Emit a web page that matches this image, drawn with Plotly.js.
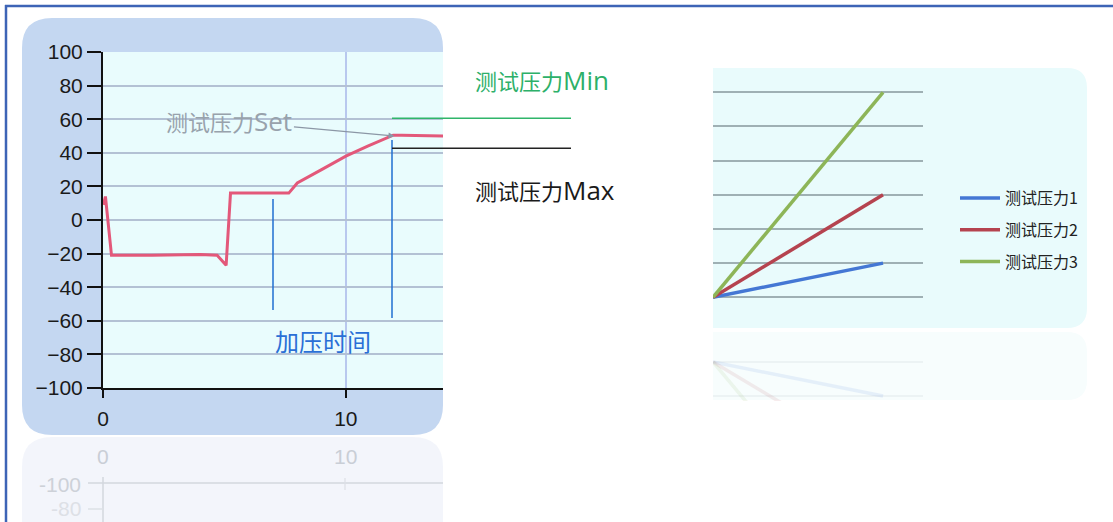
<!DOCTYPE html>
<html>
<head>
<meta charset="utf-8">
<script src="https://cdn.plot.ly/plotly-3.0.1.min.js"></script>
<style>html,body{margin:0;padding:0;background:#fff;}#chart{width:1113px;height:522px;}</style>
</head>
<body>
<div id="chart"></div>
<script>
// ---------- data ----------
const timeX    = [0.02, 0.1, 0.35, 2.0, 4.0, 4.7, 5.07, 5.25, 7.65, 8.0, 9.0, 10.0, 10.9, 11.95, 12.3, 14.0];
const pressure = [9, 14, -21, -21, -20.5, -21, -27, 16, 16, 22, 30, 38, 44, 50.5, 50.5, 50];
const yTicks   = [-100, -80, -60, -40, -20, 0, 20, 40, 60, 80, 100];
const xTicks   = [0, 10];
const setLabel = '测试压力Set';
const setPoint = [12, 50];
const limitLabels = ['测试压力Min', '测试压力Max'];
const limitValues = [60.5, 42.7];
const pressTimes  = [7.0, 11.9];
const pressTop    = [12.5, 47.6];
const pressBottom = [-53.5, -58.3];
const pressLabel  = '加压时间';

const seriesNames = ['测试压力1', '测试压力2', '测试压力3'];
const seriesX     = [0, 1];
const seriesY     = [[0, 1], [0, 3], [0, 6]];
const seriesColors = ['#4477d4', '#b5434f', '#8db558'];

// ---------- layout helpers (pixel -> paper) ----------
const W = 1113, H = 522;
const px = x => x / W;
const py = y => 1 - y / H;
const LB = {l: 103, r: 443, t: 52, b: 388};
const xRange = [0, 14];
const xToPaper = v => px(LB.l + (v - xRange[0]) / (xRange[1] - xRange[0]) * (LB.r - LB.l));

function rrect(x0, y0, x1, y1, r, sq) {
  const P = (x, y) => px(x).toFixed(5) + ',' + py(y).toFixed(5);
  const rl = sq ? 0 : r;
  return 'M' + P(x0 + rl, y0) + ' L' + P(x1 - r, y0) + ' Q' + P(x1, y0) + ' ' + P(x1, y0 + r) +
    ' L' + P(x1, y1 - r) + ' Q' + P(x1, y1) + ' ' + P(x1 - r, y1) +
    ' L' + P(x0 + rl, y1) + ' Q' + P(x0, y1) + ' ' + P(x0, y1 - rl) +
    ' L' + P(x0, y0 + rl) + ' Q' + P(x0, y0) + ' ' + P(x0 + rl, y0) + ' Z';
}

const CJK = '"Noto Sans CJK SC", "Noto Sans", sans-serif';
const LAT = 'Liberation Sans, Arial, sans-serif';
const mix = (label, s2) => {
  const cn = label.replace(/[A-Za-z]+$/, '');
  const lat = label.slice(cn.length);
  return cn + '<span style="font-family:Open Sans;font-size:' + s2 + 'px">' + lat + '</span>';
};

// ---------- traces ----------
const traces = [{
  x: timeX, y: pressure, xaxis: 'x', yaxis: 'y', mode: 'lines',
  line: {color: '#e3587a', width: 3}, showlegend: false, hoverinfo: 'skip'
}];
seriesNames.forEach((n, i) => {
  traces.push({
    x: seriesX, y: seriesY[i], xaxis: 'x2', yaxis: 'y2', mode: 'lines', name: n,
    legendgroup: 'g' + i, line: {color: seriesColors[i], width: 3.5}, hoverinfo: 'skip'
  });
});
seriesNames.forEach((n, i) => {
  traces.push({
    x: seriesX, y: seriesY[i], xaxis: 'x3', yaxis: 'y3', mode: 'lines', showlegend: false,
    opacity: 0.1, line: {color: seriesColors[i], width: 3.5}, hoverinfo: 'skip'
  });
});

// ---------- shapes ----------
const shapes = [
  {type: 'line', xref: 'paper', yref: 'paper', x0: px(5), x1: 1, y0: py(6), y1: py(6), line: {color: '#3d64b6', width: 2.5}},
  {type: 'line', xref: 'paper', yref: 'paper', x0: px(6), x1: px(6), y0: py(5), y1: 0, line: {color: '#3d64b6', width: 2.5}},
  {type: 'path', xref: 'paper', yref: 'paper', layer: 'below', path: rrect(22, 18, 443, 435, 30), fillcolor: '#c4d7f1', line: {width: 0}},
  {type: 'path', xref: 'paper', yref: 'paper', layer: 'below', path: rrect(22, 437, 443, 560, 30), fillcolor: '#f0f3fa', opacity: 0.8, line: {width: 0}},
  {type: 'rect', xref: 'x', yref: 'y', layer: 'below', x0: xRange[0], x1: xRange[1], y0: yTicks[0], y1: yTicks[yTicks.length - 1], fillcolor: '#e9fcfd', line: {width: 0}},
  {type: 'path', xref: 'paper', yref: 'paper', layer: 'below', path: rrect(713, 68, 1087, 328, 20, true), fillcolor: '#e9fbfc', line: {width: 0}},
  {type: 'path', xref: 'paper', yref: 'paper', layer: 'below', path: rrect(713, 332, 1087, 400, 20, true), fillcolor: '#f7fdfd', line: {width: 0}},
  {type: 'line', xref: 'paper', yref: 'paper', x0: px(103), x1: px(443), y0: py(483), y1: py(483), line: {color: '#d3d7de', width: 1.5}},
  {type: 'line', xref: 'paper', yref: 'paper', x0: px(103), x1: px(103), y0: py(477), y1: 0, line: {color: '#d3d7de', width: 1.5}},
  {type: 'line', xref: 'paper', yref: 'paper', x0: px(345), x1: px(345), y0: py(478), y1: py(490), line: {color: '#dde0e6', width: 1.2}},
  {type: 'line', xref: 'paper', yref: 'paper', x0: px(88), x1: px(103), y0: py(483), y1: py(483), line: {color: '#d3d7de', width: 1.5}},
  {type: 'line', xref: 'paper', yref: 'paper', x0: px(88), x1: px(103), y0: py(509), y1: py(509), line: {color: '#dde0e6', width: 1.5}}
];
pressTimes.forEach((t, i) => {
  shapes.push({type: 'line', xref: 'x', yref: 'y', x0: t, x1: t, y0: pressBottom[i], y1: pressTop[i], line: {color: '#1f6fd0', width: 1.5}});
});
const limitColors = ['#2fb56a', '#222222'];
limitValues.forEach((v, i) => {
  shapes.push({type: 'line', xref: 'paper', yref: 'y', x0: xToPaper(pressTimes[1]), x1: px(571), y0: v, y1: v, line: {color: limitColors[i], width: 1.5}});
});

// ---------- annotations ----------
const annotations = [
  {xref: 'x', yref: 'y', x: setPoint[0], y: setPoint[1], text: mix(setLabel, 26), showarrow: true,
   arrowhead: 2, arrowsize: 1, arrowwidth: 1.2, arrowcolor: '#8c97a6', ax: -165, ay: -15,
   font: {family: CJK, size: 22, color: '#98a2ac'}},
  {xref: 'paper', yref: 'paper', x: px(473), y: py(80), xanchor: 'left', yanchor: 'middle', showarrow: false,
   text: mix(limitLabels[0], 26), font: {family: CJK, size: 22, color: '#2db069'}},
  {xref: 'paper', yref: 'paper', x: px(473), y: py(190), xanchor: 'left', yanchor: 'middle', showarrow: false,
   text: mix(limitLabels[1], 26), font: {family: CJK, size: 22, color: '#1a1a1a'}},
  {xref: 'x', yref: 'y', x: pressTimes[0], y: -71.5, xanchor: 'left', yanchor: 'middle', showarrow: false,
   text: pressLabel, font: {family: CJK, size: 24, color: '#2a6fd6'}},
  {xref: 'paper', yref: 'paper', x: px(103), y: py(456), xanchor: 'center', yanchor: 'middle', showarrow: false, text: '0', font: {family: LAT, size: 21, color: '#c9ced6'}},
  {xref: 'paper', yref: 'paper', x: px(345), y: py(456), xanchor: 'center', yanchor: 'middle', showarrow: false, text: '10', font: {family: LAT, size: 21, color: '#c9ced6'}},
  {xref: 'paper', yref: 'paper', x: px(83), y: py(484), xanchor: 'right', yanchor: 'middle', showarrow: false, text: '-100', font: {family: LAT, size: 21, color: '#cdd1d8'}},
  {xref: 'paper', yref: 'paper', x: px(83), y: py(508), xanchor: 'right', yanchor: 'middle', showarrow: false, text: '-80', font: {family: LAT, size: 21, color: '#dde0e6'}}
];

// ---------- layout ----------
const layout = {
  width: W, height: H, margin: {l: 0, r: 0, t: 0, b: 0},
  paper_bgcolor: '#ffffff', plot_bgcolor: 'rgba(0,0,0,0)',
  showlegend: true,
  xaxis: {domain: [px(LB.l), px(LB.r)], range: xRange, tickvals: xTicks, ticktext: xTicks.map(String),
    ticks: 'outside', ticklen: 8, tickwidth: 2, tickcolor: '#111', showline: true, linecolor: '#111', linewidth: 2,
    showgrid: true, gridcolor: '#b8c8ee', gridwidth: 1.5, zeroline: false, ticklabelstandoff: 3,
    tickfont: {family: LAT, size: 21, color: '#1a1a1a'}, fixedrange: true},
  yaxis: {domain: [py(LB.b), py(LB.t)], range: [yTicks[0], yTicks[yTicks.length - 1]], tickvals: yTicks,
    ticks: 'outside', ticklen: 14, tickwidth: 2, tickcolor: '#111', showline: true, linecolor: '#111', linewidth: 2,
    showgrid: true, gridcolor: '#b3c1d4', gridwidth: 2, zeroline: false,
    tickfont: {family: LAT, size: 21, color: '#1a1a1a'}, fixedrange: true},
  xaxis2: {domain: [px(713), px(923)], range: [0, 1.235], anchor: 'y2', showgrid: false, zeroline: false,
    showticklabels: false, showline: false, ticks: '', fixedrange: true},
  yaxis2: {domain: [py(300.7), py(88.9)], range: [-0.1, 6.1], anchor: 'x2', dtick: 1, tick0: 0, showgrid: true,
    gridcolor: '#9fb0b4', gridwidth: 2, zeroline: false, showticklabels: false, ticks: '', showline: false, fixedrange: true},
  xaxis3: {domain: [px(713), px(923)], range: [0, 1.235], anchor: 'y3', showgrid: false, zeroline: false,
    showticklabels: false, showline: false, ticks: '', fixedrange: true},
  yaxis3: {domain: [py(401), py(358.6)], range: [1.15, -0.1], anchor: 'x3', dtick: 1, tick0: 0, showgrid: true,
    gridcolor: 'rgba(159,176,180,0.12)', gridwidth: 2, zeroline: false, showticklabels: false, ticks: '', showline: false, fixedrange: true},
  legend: {x: px(955), y: py(181), xanchor: 'left', yanchor: 'top', bgcolor: 'rgba(0,0,0,0)', borderwidth: 0,
    traceorder: 'grouped', tracegroupgap: 8, itemwidth: 40,
    font: {family: CJK, size: 16, color: '#222'}},
  shapes: shapes, annotations: annotations
};

Plotly.newPlot('chart', traces, layout, {displayModeBar: false, staticPlot: true});
</script>
</body>
</html>
